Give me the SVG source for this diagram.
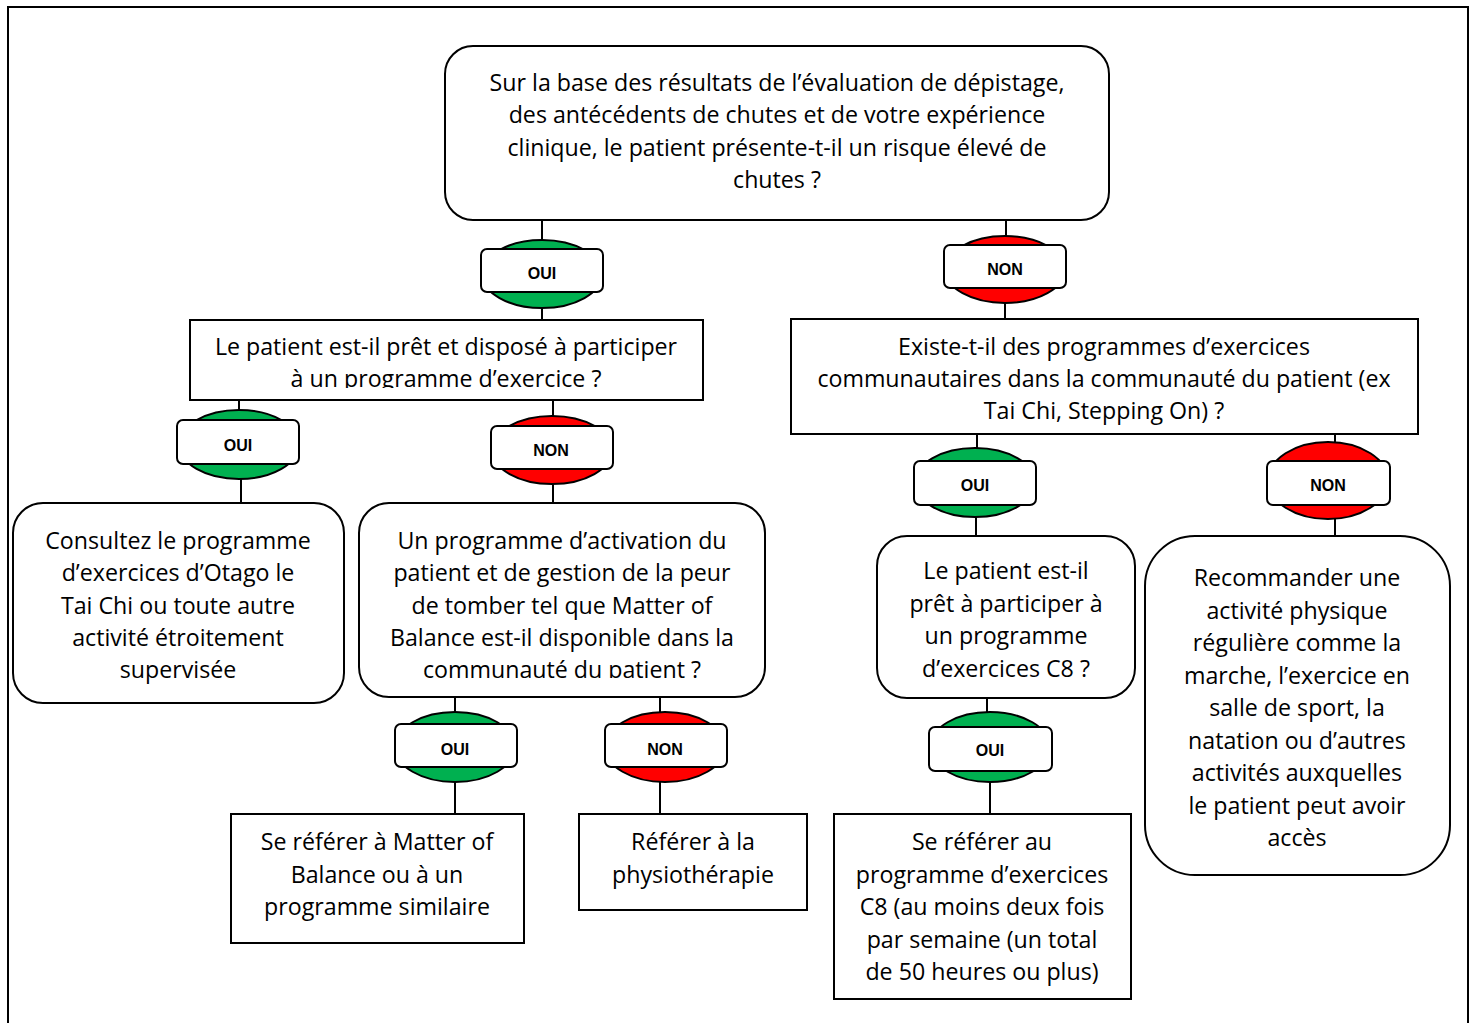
<svg xmlns="http://www.w3.org/2000/svg" width="1472" height="1023" viewBox="0 0 1472 1023">
  <style>
    .box { fill: #ffffff; stroke: #000000; stroke-width: 2; }
    .t { font-family: "Open Sans", Lato, "Liberation Sans", sans-serif; font-size: 23.2px; fill: #000000; text-anchor: middle; }
    .bt { font-family: "Liberation Sans", Arial, sans-serif; font-size: 16px; font-weight: bold; fill: #000000; text-anchor: middle; }
    .yes { fill: #00b050; stroke: #000000; stroke-width: 2; }
    .no { fill: #ff0000; stroke: #000000; stroke-width: 2; }
    .tag { fill: #ffffff; stroke: #000000; stroke-width: 2; }
    .link { stroke: #000000; stroke-width: 2; fill: none; }
  </style>
  <defs>
    <clipPath id="clip-ready"><rect x="191" y="321" width="511" height="67"/></clipPath>
    <clipPath id="clip-mob"><rect x="360" y="504" width="404" height="174"/></clipPath>
  </defs>

  <rect x="0" y="0" width="1472" height="1023" fill="#ffffff"/>
  <!-- page frame -->
  <rect x="8" y="7" width="1460" height="1040" fill="none" stroke="#000000" stroke-width="2"/>

  <!-- connectors -->
  <g id="connectors">
    <line class="link" x1="542" y1="220" x2="542" y2="240"/>
    <line class="link" x1="542" y1="308" x2="542" y2="320"/>
    <line class="link" x1="1006" y1="220" x2="1006" y2="236"/>
    <line class="link" x1="1005" y1="303" x2="1005" y2="319"/>
    <line class="link" x1="239" y1="400" x2="239" y2="410"/>
    <line class="link" x1="241" y1="479" x2="241" y2="503"/>
    <line class="link" x1="553" y1="400" x2="553" y2="416"/>
    <line class="link" x1="553" y1="484" x2="553" y2="503"/>
    <line class="link" x1="455" y1="697" x2="455" y2="712"/>
    <line class="link" x1="455" y1="782" x2="455" y2="814"/>
    <line class="link" x1="660" y1="697" x2="660" y2="712"/>
    <line class="link" x1="660" y1="782" x2="660" y2="814"/>
    <line class="link" x1="977" y1="434" x2="977" y2="448"/>
    <line class="link" x1="976" y1="517" x2="976" y2="536"/>
    <line class="link" x1="1335" y1="434" x2="1335" y2="442"/>
    <line class="link" x1="1335" y1="519" x2="1335" y2="536"/>
    <line class="link" x1="987" y1="698" x2="987" y2="712"/>
    <line class="link" x1="990" y1="782" x2="990" y2="814"/>
  </g>

  <!-- decision / action nodes -->
  <g id="q-risk">
    <rect class="box" x="445" y="46" width="664" height="174" rx="28"/>
    <text class="t" x="777" y="91">Sur la base des résultats de l’évaluation de dépistage,</text>
    <text class="t" x="777" y="123">des antécédents de chutes et de votre expérience</text>
    <text class="t" x="777" y="156">clinique, le patient présente-t-il un risque élevé de</text>
    <text class="t" x="777" y="188">chutes ?</text>
  </g>

  <g id="q-ready">
    <rect class="box" x="190" y="320" width="513" height="80"/>
    <g clip-path="url(#clip-ready)">
      <text class="t" x="446" y="355">Le patient est-il prêt et disposé à participer</text>
      <text class="t" x="446" y="387">à un programme d’exercice ?</text>
    </g>
  </g>

  <g id="q-community">
    <rect class="box" x="791" y="319" width="627" height="115"/>
    <text class="t" x="1104" y="355">Existe-t-il des programmes d’exercices</text>
    <text class="t" x="1104" y="387">communautaires dans la communauté du patient (ex</text>
    <text class="t" x="1104" y="419">Tai Chi, Stepping On) ?</text>
  </g>

  <g id="a-otago">
    <rect class="box" x="13" y="503" width="331" height="200" rx="30"/>
    <text class="t" x="178" y="549">Consultez le programme</text>
    <text class="t" x="178" y="581">d’exercices d’Otago le</text>
    <text class="t" x="178" y="614">Tai Chi ou toute autre</text>
    <text class="t" x="178" y="646">activité étroitement</text>
    <text class="t" x="178" y="678">supervisée</text>
  </g>

  <g id="q-mob">
    <rect class="box" x="359" y="503" width="406" height="194" rx="30"/>
    <g clip-path="url(#clip-mob)">
      <text class="t" x="562" y="549">Un programme d’activation du</text>
      <text class="t" x="562" y="581">patient et de gestion de la peur</text>
      <text class="t" x="562" y="614">de tomber tel que Matter of</text>
      <text class="t" x="562" y="646">Balance est-il disponible dans la</text>
      <text class="t" x="562" y="678">communauté du patient ?</text>
    </g>
  </g>

  <g id="a-mob">
    <rect class="box" x="231" y="814" width="293" height="129"/>
    <text class="t" x="377" y="850">Se référer à Matter of</text>
    <text class="t" x="377" y="883">Balance ou à un</text>
    <text class="t" x="377" y="915">programme similaire</text>
  </g>

  <g id="a-physio">
    <rect class="box" x="579" y="814" width="228" height="96"/>
    <text class="t" x="693" y="850">Référer à la</text>
    <text class="t" x="693" y="883">physiothérapie</text>
  </g>

  <g id="q-c8">
    <rect class="box" x="877" y="536" width="258" height="162" rx="30"/>
    <text class="t" x="1006" y="579">Le patient est-il</text>
    <text class="t" x="1006" y="612">prêt à participer à</text>
    <text class="t" x="1006" y="644">un programme</text>
    <text class="t" x="1006" y="677">d’exercices C8 ?</text>
  </g>

  <g id="a-c8">
    <rect class="box" x="834" y="814" width="297" height="185"/>
    <text class="t" x="982" y="850">Se référer au</text>
    <text class="t" x="982" y="883">programme d’exercices</text>
    <text class="t" x="982" y="915">C8 (au moins deux fois</text>
    <text class="t" x="982" y="948">par semaine (un total</text>
    <text class="t" x="982" y="980">de 50 heures ou plus)</text>
  </g>

  <g id="a-activity">
    <rect class="box" x="1145" y="536" width="305" height="339" rx="50"/>
    <text class="t" x="1297" y="586">Recommander une</text>
    <text class="t" x="1297" y="619">activité physique</text>
    <text class="t" x="1297" y="651">régulière comme la</text>
    <text class="t" x="1297" y="684">marche, l’exercice en</text>
    <text class="t" x="1297" y="716">salle de sport, la</text>
    <text class="t" x="1297" y="749">natation ou d’autres</text>
    <text class="t" x="1297" y="781">activités auxquelles</text>
    <text class="t" x="1297" y="814">le patient peut avoir</text>
    <text class="t" x="1297" y="846">accès</text>
  </g>

  <!-- OUI / NON badges -->
  <g id="b-risk-yes">
    <ellipse class="yes" cx="542" cy="274" rx="60" ry="34"/>
    <rect class="tag" x="481" y="249" width="122" height="43" rx="6"/>
    <text class="bt" x="542" y="279">OUI</text>
  </g>
  <g id="b-risk-no">
    <ellipse class="no" cx="1005" cy="269.5" rx="60" ry="33.5"/>
    <rect class="tag" x="944" y="245" width="122" height="43" rx="6"/>
    <text class="bt" x="1005" y="275">NON</text>
  </g>
  <g id="b-ready-yes">
    <ellipse class="yes" cx="239" cy="444.5" rx="60" ry="34.5"/>
    <rect class="tag" x="177" y="420" width="122" height="44" rx="6"/>
    <text class="bt" x="238" y="451">OUI</text>
  </g>
  <g id="b-ready-no">
    <ellipse class="no" cx="552" cy="450" rx="60" ry="34"/>
    <rect class="tag" x="491" y="426" width="122" height="43" rx="6"/>
    <text class="bt" x="551" y="456">NON</text>
  </g>
  <g id="b-mob-yes">
    <ellipse class="yes" cx="455" cy="747" rx="60" ry="35"/>
    <rect class="tag" x="395" y="724" width="122" height="43" rx="6"/>
    <text class="bt" x="455" y="755">OUI</text>
  </g>
  <g id="b-mob-no">
    <ellipse class="no" cx="665" cy="747" rx="60" ry="35"/>
    <rect class="tag" x="605" y="724" width="122" height="43" rx="6"/>
    <text class="bt" x="665" y="755">NON</text>
  </g>
  <g id="b-comm-yes">
    <ellipse class="yes" cx="975" cy="482.5" rx="60" ry="34.5"/>
    <rect class="tag" x="914" y="461" width="122" height="44" rx="6"/>
    <text class="bt" x="975" y="491">OUI</text>
  </g>
  <g id="b-comm-no">
    <ellipse class="no" cx="1328" cy="480.5" rx="60" ry="38.5"/>
    <rect class="tag" x="1267" y="461" width="123" height="44" rx="6"/>
    <text class="bt" x="1328" y="491">NON</text>
  </g>
  <g id="b-c8-yes">
    <ellipse class="yes" cx="990" cy="747" rx="60" ry="35"/>
    <rect class="tag" x="929" y="727" width="123" height="44" rx="6"/>
    <text class="bt" x="990" y="756">OUI</text>
  </g>
</svg>
